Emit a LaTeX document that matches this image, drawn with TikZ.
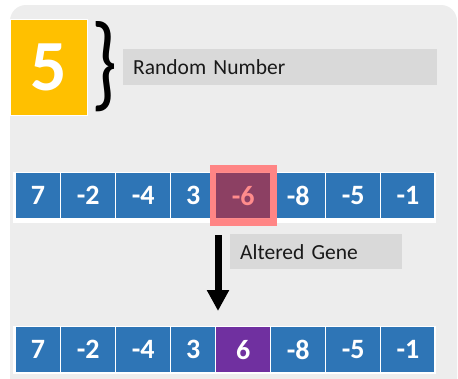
\documentclass[tikz,border=0pt]{standalone}
\usepackage{fontspec}
\setmainfont{Carlito}
\usetikzlibrary{arrows.meta}
\definecolor{panelgray}{HTML}{EDEDED}
\definecolor{labelgray}{HTML}{D9D9D9}
\definecolor{genblue}{HTML}{2E75B6}
\definecolor{genpurple}{HTML}{7030A0}
\definecolor{gold}{HTML}{FFC000}
\definecolor{hlpink}{HTML}{FF8585}
\tikzset{
  gene/.style={fill=genblue, text=white, inner sep=0pt, anchor=north west,
    font=\fontsize{28}{28}\selectfont\bfseries},
  label/.style={fill=labelgray, inner sep=0pt, anchor=north west,
    text=black!90, font=\fontsize{21.5}{21.5}\selectfont},
}
% cell i spans from x_{i-1}+1 to x_i (borders of the gene cells)
\def\cellx{15,60.5,115.5,170.5,215.5,270.5,325.5,380.5,435}
\newcommand\generow[3]{% #1 name prefix, #2 top y, #3 list of values
  \foreach \v [count=\i] in {#3} {
    \pgfmathsetmacro\xa{{\cellx}[\i-1]}
    \pgfmathsetmacro\xb{{\cellx}[\i]}
    \node[gene, minimum width={\xb-\xa-1.5pt}, minimum height=45pt]
      (#1\i) at (\xa+0.75,#2) {\v};
  }
}
\begin{document}
\begin{tikzpicture}[x=1pt,y=-1pt]
  \useasboundingbox (0,0) rectangle (458,378);
  \fill[white] (0,0) rectangle (458,378);
  % panel
  \begin{scope}
    \clip (0,0) rectangle (458,378);
    \fill[panelgray, rounded corners=16pt] (10,5) rectangle (457,395);
  \end{scope}

  % random number
  \node[fill=gold, draw=white, line width=1pt, minimum width=77pt, minimum height=96pt,
    inner sep=0pt, text=white, anchor=north west,
    font=\fontsize{72}{72}\selectfont\bfseries] (rnd) at (10,19) {5};
  \node[inner sep=0pt, anchor=west] (brace) at (91,67)
    {\resizebox{26pt}{76pt}{\}}};
  \node[label, minimum width=314pt, minimum height=36pt, text width=294pt,
    align=left] (rndlbl) at (123,49) {Random Number};

  % original gene
  \fill[white] (13,172) rectangle (436,223);
  \generow{a}{173}{7,-2,-4,3,-6,-8,-5,-1}
  \node[draw=hlpink, line width=4.5pt, fill=red, fill opacity=0.45,
    minimum width=58pt, minimum height=52pt, inner sep=0pt]
    (hl) at (a5) {};
  \draw[hlpink, line width=4.5pt] (hl.north west) rectangle (hl.south east);

  % mutation arrow and label
  \coordinate (from) at (218,235);
  \coordinate (to) at (218,311);
  \draw[line width=7pt, -{Triangle[width=21pt,length=21pt]}] (from) -- (to);
  \node[label, minimum width=172pt, minimum height=35pt, text width=152pt,
    align=left] (altlbl) at (230,234) {Altered Gene};

  % altered gene
  \fill[white] (13,326) rectangle (436,374);
  \generow{b}{327}{7,-2,-4,3,6,-8,-5,-1}
  \fill[genpurple] (b5.north west) rectangle (b5.south east);
  \node[text=white, inner sep=0pt, font=\fontsize{28}{28}\selectfont\bfseries]
    at (b5) {6};
\end{tikzpicture}
\end{document}
